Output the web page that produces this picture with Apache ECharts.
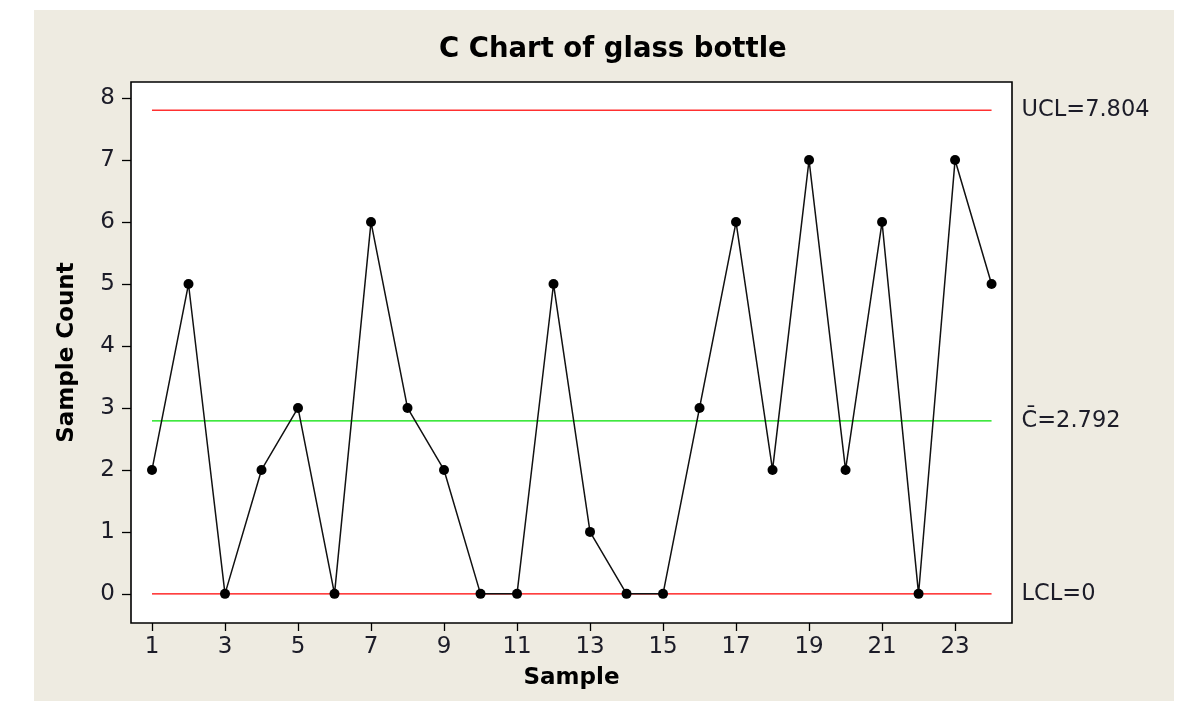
<!DOCTYPE html>
<html lang="en">
<head>
<meta charset="UTF-8">
<title>C Chart of glass bottle</title>
<script src="https://cdn.jsdelivr.net/npm/echarts@6/dist/echarts.min.js"></script>
<style>
body{margin:0;background:#fff}
#main{width:1200px;height:701px}
</style>
</head>
<body>
<div id="main"></div>
<script type="text/javascript">
var samples = [1,2,3,4,5,6,7,8,9,10,11,12,13,14,15,16,17,18,19,20,21,22,23,24];
var counts = [2,5,0,2,3,0,6,3,2,0,0,5,1,0,0,3,6,2,7,2,6,0,7,5];
var xTicks = [1,3,5,7,9,11,13,15,17,19,21,23];
var yTicks = [0,1,2,3,4,5,6,7,8];
var ucl = 7.804;
var cbar = 2.792;
var lcl = 0;

var txt = '#1c1c28';
var font = 'DejaVu Sans';

function limitLine(name, val, color, label) {
    return {
        name: name,
        type: 'line',
        data: [[samples[0], val], [samples[samples.length - 1], val]],
        showSymbol: false,
        silent: true,
        lineStyle: {color: color, width: 1.4},
        endLabel: {
            show: true,
            formatter: label,
            distance: 30,
            color: txt,
            fontFamily: font,
            fontSize: 22.5
        },
        z: 1
    };
}

var myChart = echarts.init(document.getElementById('main'));
myChart.setOption({
    animation: false,
    graphic: [{
        type: 'rect',
        shape: {x: 34, y: 10, width: 1140, height: 691},
        style: {fill: '#eeebe1'},
        z: -10
    }],
    title: {
        text: 'C Chart of glass bottle',
        left: 434,
        top: 31,
        textStyle: {fontFamily: font, fontWeight: 'bold', fontSize: 27.5, color: '#000'}
    },
    grid: {
        left: 131, top: 82, right: 188, bottom: 78,
        show: true,
        backgroundColor: '#fff',
        borderColor: '#000',
        borderWidth: 1.6
    },
    xAxis: {
        type: 'value',
        min: 0.425,
        max: 24.56,
        name: 'Sample',
        nameLocation: 'middle',
        nameGap: 44,
        nameTextStyle: {fontFamily: font, fontWeight: 'bold', fontSize: 23, color: '#000'},
        axisLine: {show: false, onZero: false},
        axisTick: {show: true, length: 8, customValues: xTicks, lineStyle: {color: '#000', width: 1.3}},
        axisLabel: {customValues: xTicks, margin: 13, fontFamily: font, fontSize: 23, color: txt},
        splitLine: {show: false}
    },
    yAxis: {
        type: 'value',
        min: -0.47,
        max: 8.26,
        name: 'Sample Count',
        nameLocation: 'middle',
        nameGap: 52,
        nameTextStyle: {fontFamily: font, fontWeight: 'bold', fontSize: 23, color: '#000'},
        axisLine: {show: false, onZero: false},
        axisTick: {show: true, length: 9, customValues: yTicks, lineStyle: {color: '#000', width: 1.3}},
        axisLabel: {customValues: yTicks, margin: 16, fontFamily: font, fontSize: 23, color: txt},
        splitLine: {show: false}
    },
    series: [
        limitLine('UCL', ucl, '#ff3030', 'UCL=' + ucl),
        limitLine('CL', cbar, '#00e000', 'C\u0304=' + cbar),
        limitLine('LCL', lcl, '#ff0000', 'LCL=' + lcl),
        {
            name: 'Count',
            type: 'line',
            data: samples.map(function (s, i) { return [s, counts[i]]; }),
            symbol: 'circle',
            symbolSize: 10,
            itemStyle: {color: '#000'},
            lineStyle: {color: '#111', width: 1.5},
            z: 3
        }
    ]
});
</script>
</body>
</html>
